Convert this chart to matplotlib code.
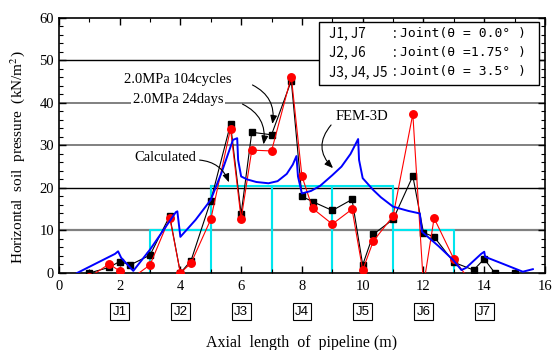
import numpy as np
import matplotlib
matplotlib.use("Agg")
import matplotlib.pyplot as plt
from matplotlib.ticker import MultipleLocator

plt.rcParams["font.family"] = ["Liberation Serif", "DejaVu Serif"]
plt.rcParams["mathtext.fontset"] = "stix"

# Measured points, 2.0MPa 104cycles (black) and 24days (red)
x_meas = [1.0, 1.65, 2.0, 2.35, 3.0, 3.65, 4.0, 4.35, 5.0, 5.65, 6.0, 6.35, 7.0, 7.65,
          8.0, 8.35, 9.0, 9.65, 10.0, 10.35, 11.0, 11.65, 12.0, 12.35, 13.0, 13.65,
          14.0, 14.35, 15.0]
p_104cycles = [0.0, 1.3, 2.7, 1.9, 4.2, 13.4, 0.0, 2.9, 17.0, 35.0, 13.9, 33.1, 32.5, 45.2,
               18.0, 16.8, 14.7, 17.3, 1.9, 9.1, 12.6, 22.8, 9.5, 8.5, 2.5, 0.7,
               3.3, 0.0, 0.0]
p_24days = [-1.0, 2.1, 0.5, -1.5, 1.9, 13.0, 0.0, 2.3, 12.6, 33.9, 12.7, 28.9, 28.7, 46.2,
            22.8, 15.2, 11.5, 15.0, 0.7, 7.5, 13.4, 37.4, -3.0, 12.9, 3.3, -3.0,
            -1.5, -3.0, -3.0]

# FEM-3D curve
x_fem = [0.6, 1.85, 1.95, 2.05, 2.45, 3.0, 3.85, 3.9, 4.0, 4.5, 5.0, 5.35, 5.73, 5.87,
         5.9, 6.0, 6.2, 6.5, 6.9, 7.2, 7.5, 7.7, 7.82, 7.87, 8.0, 8.3, 8.6, 9.0, 9.3,
         9.6, 9.85, 9.88, 10.0, 10.35, 10.6, 11.0, 11.5, 11.88, 11.95, 12.5, 12.97,
         13.25, 13.4, 13.9, 14.0, 14.03, 14.6, 15.27, 15.6]
p_fem = [0.0, 4.5, 5.1, 3.6, 0.5, 5.5, 14.3, 14.5, 8.5, 12.5, 17.2, 23.5, 31.3, 31.7,
         26.6, 22.7, 22.0, 21.4, 21.1, 21.6, 23.3, 25.5, 27.5, 22.7, 18.7, 19.3, 20.5,
         23.0, 25.0, 28.0, 31.5, 26.6, 22.3, 19.5, 17.8, 15.6, 14.6, 14.0, 9.7, 6.3,
         3.1, 0.7, 1.2, 4.5, 5.0, 3.8, 2.2, 0.3, 0.9]

# Calculated (step) values
x_calc = [3, 3, 5, 5, 7, 7, 7, 9, 9, 9, 11, 11, 13, 13]
p_calc = [0, 10.2, 10.2, 20.4, 20.4, 0, 20.4, 20.4, 0, 20.4, 20.4, 10.2, 10.2, 0]
x_calc_v = [5, 11]

joints = ["J1", "J2", "J3", "J4", "J5", "J6", "J7"]
joint_x = [2, 4, 6, 8, 10, 12, 14]

legend_left = ["J1, J7", "J2, J6", "J3, J4, J5"]
legend_right = ["Joint(θ = 0.0° )", "Joint(θ =1.75° )", "Joint(θ = 3.5° )"]

fig = plt.figure(figsize=(5.55, 3.5), dpi=100)
ax = fig.add_axes([0.106, 0.22, 0.876, 0.729])

# grid-like horizontal lines
for yv, col, lw in [(10, "#808080", 1.6), (20, "black", 1.0), (30, "#808080", 1.4),
                    (40, "#808080", 1.4), (50, "black", 1.0)]:
    ax.axhline(yv, color=col, lw=lw, zorder=0.5)

ax.plot(x_calc, p_calc, color="#00e5ee", lw=1.5, zorder=1)
for xv in x_calc_v:
    ax.plot([xv, xv], [0, 20.4], color="#00e5ee", lw=1.5, zorder=1)

ax.plot(x_meas, p_104cycles, color="black", lw=0.8, marker="s", ms=4.8, zorder=2)
ax.plot(x_meas, p_24days, color="red", lw=0.8, marker="o", ms=5.4, zorder=3)
ax.plot(x_fem, p_fem, color="#0000ff", lw=1.4, zorder=4)

ax.set_xlim(0, 16)
ax.set_ylim(0, 60)
ax.xaxis.set_major_locator(MultipleLocator(2))
ax.xaxis.set_minor_locator(MultipleLocator(1))
ax.yaxis.set_major_locator(MultipleLocator(10))
ax.yaxis.set_minor_locator(MultipleLocator(2))
ax.tick_params(which="both", direction="in", top=True, right=True, labelsize=10.5)
ax.tick_params(which="major", length=5, width=1)
ax.tick_params(which="minor", length=3, width=0.8)
ax.tick_params(axis="x", pad=5)
for s in ax.spines.values():
    s.set_linewidth(1.2)

ax.set_xlabel("Axial  length  of  pipeline (m)", fontsize=11.5, labelpad=30)
ax.set_ylabel("Horizontal  soil  pressure  (kN/m$^2$)", fontsize=11)
ax.yaxis.set_label_coords(-0.066, 0.455)

# joint boxes below the axis
for jx, jn in zip(joint_x, joints):
    ax.text(jx, -9.1, jn, ha="center", va="center", fontsize=9.5,
            family=["Liberation Sans", "DejaVu Sans"], clip_on=False,
            bbox=dict(boxstyle="square,pad=0.18", fc="white", ec="black", lw=0.8))

# annotations
wb = dict(boxstyle="square,pad=0.1", fc="white", ec="none")
ax.text(3.92, 45.4, "2.0MPa 104cycles", ha="center", va="center", fontsize=10.5, bbox=wb, zorder=5)
ax.text(3.92, 40.9, "2.0MPa 24days", ha="center", va="center", fontsize=10.5, bbox=wb, zorder=5)
ax.text(3.49, 27.1, "Calculated", ha="center", va="center", fontsize=10.5, zorder=5)
ax.text(9.98, 36.7, "FEM-3D", ha="center", va="center", fontsize=10.5, zorder=5)
arrows = [((6.29, 44.5), (7.01, 34.4), -0.4),
          ((5.96, 40.0), (6.72, 29.6), -0.4),
          ((4.54, 26.6), (5.63, 20.7), -0.35),
          ((9.02, 35.3), (9.09, 24.2), 0.5)]
for start, tip, rad in arrows:
    ax.annotate("", xy=tip, xytext=start, zorder=6,
                arrowprops=dict(arrowstyle="-|>,head_length=0.5,head_width=0.2",
                                connectionstyle=f"arc3,rad={rad}", color="black", lw=0.8))

# legend box (top right)
ax.add_patch(plt.Rectangle((8.55, 44.2), 7.26, 14.9, fc="white", ec="black", lw=1.0, zorder=7))
for i, (l, r) in enumerate(zip(legend_left, legend_right)):
    yy = 56.3 - i * 4.5
    ax.text(8.9, yy, l, ha="left", va="center", fontsize=9.8,
            family=["Noto Sans CJK JP", "DejaVu Sans"], zorder=8)
    ax.text(11.0, yy, ":", ha="left", va="center", fontsize=9.8,
            family=["Noto Sans CJK JP", "DejaVu Sans"], zorder=8)
    ax.text(11.23, yy, r, ha="left", va="center", fontsize=9.4,
            family=["DejaVu Sans Mono"], zorder=8)

fig.savefig("out.png", dpi=100)
